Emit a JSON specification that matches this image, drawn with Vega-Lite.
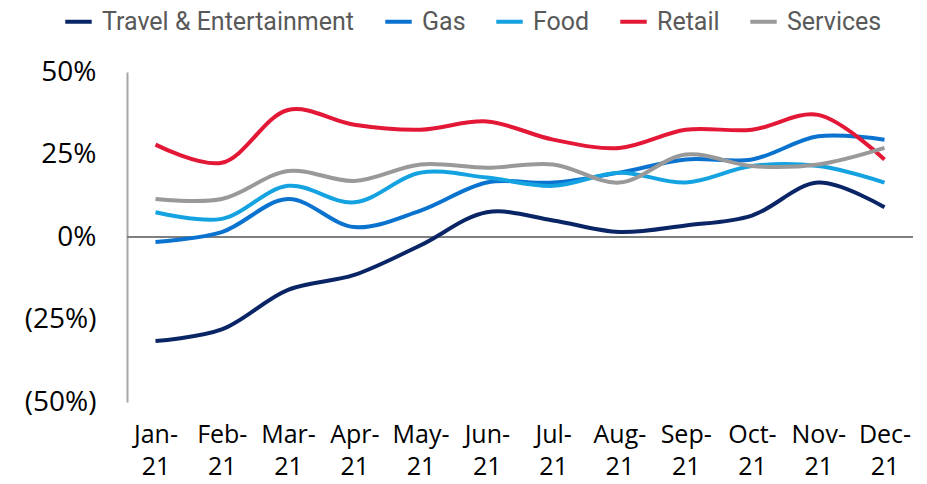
{
  "$schema": "https://vega.github.io/schema/vega-lite/v6.json",
  "autosize": {"type": "none"},
  "width": 786,
  "height": 330,
  "padding": {"left": 127, "top": 72, "right": 14, "bottom": 82},
  "background": "white",
  "config": {"view": {"stroke": null}},
  "data": {"values": [
    {"m": "Jan", "s": "Travel & Entertainment", "v": -31.5},
    {"m": "Feb", "s": "Travel & Entertainment", "v": -28},
    {"m": "Mar", "s": "Travel & Entertainment", "v": -16},
    {"m": "Apr", "s": "Travel & Entertainment", "v": -11.5},
    {"m": "May", "s": "Travel & Entertainment", "v": -2.5},
    {"m": "Jun", "s": "Travel & Entertainment", "v": 7.5},
    {"m": "Jul", "s": "Travel & Entertainment", "v": 5},
    {"m": "Aug", "s": "Travel & Entertainment", "v": 1.5},
    {"m": "Sep", "s": "Travel & Entertainment", "v": 3.5},
    {"m": "Oct", "s": "Travel & Entertainment", "v": 6.5},
    {"m": "Nov", "s": "Travel & Entertainment", "v": 16.5},
    {"m": "Dec", "s": "Travel & Entertainment", "v": 9},
    {"m": "Jan", "s": "Gas", "v": -1.5},
    {"m": "Feb", "s": "Gas", "v": 1.5},
    {"m": "Mar", "s": "Gas", "v": 11.5},
    {"m": "Apr", "s": "Gas", "v": 3},
    {"m": "May", "s": "Gas", "v": 8},
    {"m": "Jun", "s": "Gas", "v": 16.5},
    {"m": "Jul", "s": "Gas", "v": 16.5},
    {"m": "Aug", "s": "Gas", "v": 19.5},
    {"m": "Sep", "s": "Gas", "v": 23.5},
    {"m": "Oct", "s": "Gas", "v": 23.5},
    {"m": "Nov", "s": "Gas", "v": 30.5},
    {"m": "Dec", "s": "Gas", "v": 29.5},
    {"m": "Jan", "s": "Food", "v": 7.5},
    {"m": "Feb", "s": "Food", "v": 5.5},
    {"m": "Mar", "s": "Food", "v": 15.5},
    {"m": "Apr", "s": "Food", "v": 10.5},
    {"m": "May", "s": "Food", "v": 19.5},
    {"m": "Jun", "s": "Food", "v": 18},
    {"m": "Jul", "s": "Food", "v": 15.5},
    {"m": "Aug", "s": "Food", "v": 19.5},
    {"m": "Sep", "s": "Food", "v": 16.5},
    {"m": "Oct", "s": "Food", "v": 21.5},
    {"m": "Nov", "s": "Food", "v": 21.5},
    {"m": "Dec", "s": "Food", "v": 16.5},
    {"m": "Jan", "s": "Retail", "v": 28},
    {"m": "Feb", "s": "Retail", "v": 22.5},
    {"m": "Mar", "s": "Retail", "v": 38.5},
    {"m": "Apr", "s": "Retail", "v": 34},
    {"m": "May", "s": "Retail", "v": 32.5},
    {"m": "Jun", "s": "Retail", "v": 35},
    {"m": "Jul", "s": "Retail", "v": 29.5},
    {"m": "Aug", "s": "Retail", "v": 27},
    {"m": "Sep", "s": "Retail", "v": 32.5},
    {"m": "Oct", "s": "Retail", "v": 32.5},
    {"m": "Nov", "s": "Retail", "v": 37},
    {"m": "Dec", "s": "Retail", "v": 23.5},
    {"m": "Jan", "s": "Services", "v": 11.5},
    {"m": "Feb", "s": "Services", "v": 11.5},
    {"m": "Mar", "s": "Services", "v": 20},
    {"m": "Apr", "s": "Services", "v": 17},
    {"m": "May", "s": "Services", "v": 22},
    {"m": "Jun", "s": "Services", "v": 21},
    {"m": "Jul", "s": "Services", "v": 22},
    {"m": "Aug", "s": "Services", "v": 16.5},
    {"m": "Sep", "s": "Services", "v": 25},
    {"m": "Oct", "s": "Services", "v": 21.5},
    {"m": "Nov", "s": "Services", "v": 22},
    {"m": "Dec", "s": "Services", "v": 27}
  ]},
  "layer": [
    {
      "mark": {"type": "rule", "color": "#7f7f7f", "strokeWidth": 1.5},
      "encoding": {"y": {"datum": 0, "type": "quantitative"}}
    },
    {
      "mark": {"type": "line", "interpolate": "catmull-rom", "strokeWidth": 4},
      "encoding": {
        "x": {
          "field": "m", "type": "ordinal",
          "sort": ["Jan","Feb","Mar","Apr","May","Jun","Jul","Aug","Sep","Oct","Nov","Dec"],
          "scale": {"type": "point", "padding": 0.43},
          "axis": {
            "title": null, "domain": false, "ticks": false, "labelAngle": 0,
            "labelExpr": "[datum.label + '-', '21']",
            "labelFont": "Open Sans", "labelFontSize": 25, "labelColor": "#000000",
            "labelLineHeight": 32, "labelPadding": 20, "labelBaseline": "top"
          }
        },
        "y": {
          "field": "v", "type": "quantitative",
          "scale": {"domain": [-50, 50], "nice": false},
          "axis": {
            "title": null, "values": [-50, -25, 0, 25, 50], "grid": false, "ticks": false,
            "domainColor": "#a6a6a6", "domainWidth": 2,
            "labelExpr": "datum.value < 0 ? '(' + abs(datum.value) + '%)' : datum.value + '%'",
            "labelFont": "Open Sans", "labelFontSize": 28, "labelColor": "#000000",
            "labelPadding": 31
          }
        },
        "color": {
          "field": "s", "type": "nominal",
          "sort": ["Travel & Entertainment", "Gas", "Food", "Retail", "Services"],
          "scale": {
            "domain": ["Travel & Entertainment", "Gas", "Food", "Retail", "Services"],
            "range": ["#0a2566", "#0a72cf", "#14a3e0", "#e31837", "#999999"]
          },
          "legend": {
            "title": null, "orient": "none", "direction": "horizontal",
            "legendX": -64, "legendY": -66,
            "symbolType": "stroke", "symbolStrokeWidth": 4, "symbolSize": 700,
            "labelFont": "Roboto", "labelFontSize": 25, "labelColor": "#595959",
            "labelLimit": 0, "labelOffset": 8, "columnPadding": 22
          }
        }
      }
    }
  ]
}
